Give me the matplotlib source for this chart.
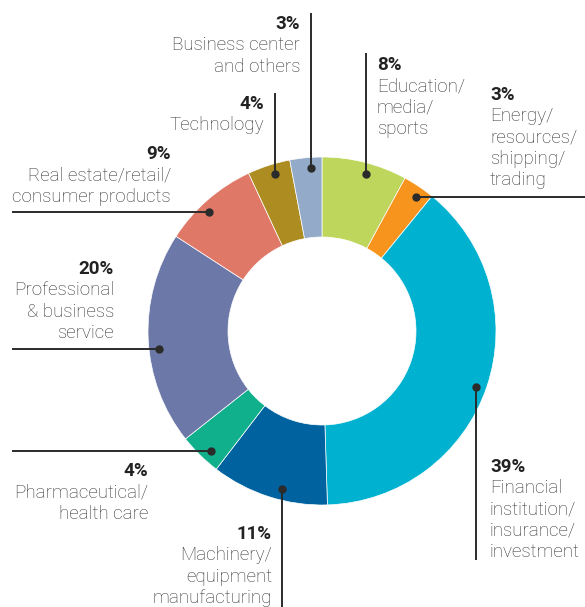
#!/usr/bin/env python3
"""Donut chart of clients by industry, with leader-line labels."""

import numpy as np
import matplotlib.pyplot as plt

# Data (clockwise from 12 o'clock)
industries = [
    "Education/\nmedia/\nsports",
    "Energy/\nresources/\nshipping/\ntrading",
    "Financial\ninstitution/\ninsurance/\ninvestment",
    "Machinery/\nequipment\nmanufacturing",
    "Pharmaceutical/\nhealth care",
    "Professional\n& business\nservice",
    "Real estate/retail/\nconsumer products",
    "Technology",
    "Business center\nand others",
]
shares = [8, 3, 39, 11, 4, 20, 9, 4, 3]
colors = ["#bdd65b", "#f7941e", "#00b1d0", "#0063a0", "#10b08c",
          "#6c78a8", "#e07868", "#ad8d22", "#93abc8"]

# Layout in pixels (y measured from top): leader direction, line end,
# text anchor x, first baseline y, alignment, dot position along the wedge
W, H = 585, 607
layout = [
    ("up", 53, 377, 70, "left", 0.55),
    ("right", 585, 490, 100, "left", 0.62),
    ("down", 560, 490, 472, "left", 0.51),
    ("down", 607, 272, 539, "right", 0.41),
    ("left", 12, 148, 476, "right", 0.36),
    ("left", 12, 114, 274, "right", 0.45),
    ("left", 12, 171, 159, "right", 0.42),
    ("up", 93, 264, 109, "right", 0.59),
    ("up", 13, 300, 29, "right", 0.64),
]

CX, CY, R, RING = 322, H - 331, 174, 80
LINE_STEP = 21.3
FONT_SIZE = 13.5
TEXT_COLOR = "#333333"
LEAD_COLOR = "#2b2b2b"


def main() -> None:
    fig = plt.figure(figsize=(W / 100, H / 100), dpi=100)
    ax = fig.add_axes([0, 0, 1, 1])

    wedges, _ = ax.pie(
        shares, colors=colors, startangle=90, counterclock=False,
        center=(CX, CY), radius=R, frame=True,
        wedgeprops=dict(width=RING, edgecolor="white", linewidth=0.5),
    )
    ax.set_xlim(0, W)
    ax.set_ylim(0, H)
    ax.set_aspect("equal")
    ax.axis("off")

    for wedge, name, share, (direction, end, tx, ty, ha, frac) in zip(
            wedges, industries, shares, layout):
        # clockwise wedges: theta2 is the start, theta1 the end
        ang = np.deg2rad(wedge.theta2 - frac * (wedge.theta2 - wedge.theta1))
        dx = CX + 0.94 * R * np.cos(ang)
        dy = CY + 0.94 * R * np.sin(ang)
        if direction in ("up", "down"):
            ax.plot([dx, dx], [dy, H - end], color=LEAD_COLOR, lw=1.4,
                    solid_capstyle="butt", zorder=3)
        else:
            ax.plot([dx, end], [dy, dy], color=LEAD_COLOR, lw=1.4,
                    solid_capstyle="butt", zorder=3)
        ax.plot(dx, dy, "o", color=LEAD_COLOR, ms=5, zorder=4)

        ax.text(tx, H - ty, f"{share}%", ha=ha, va="baseline",
                fontsize=FONT_SIZE, fontweight="bold", color="#222222",
                family="Roboto")
        for i, line in enumerate(name.split("\n"), start=1):
            ax.text(tx, H - ty - i * LINE_STEP, line, ha=ha, va="baseline",
                    fontsize=FONT_SIZE, fontweight="light", color=TEXT_COLOR,
                    family="Roboto")

    fig.savefig("out.png", dpi=100)
    plt.close(fig)


if __name__ == "__main__":
    main()
